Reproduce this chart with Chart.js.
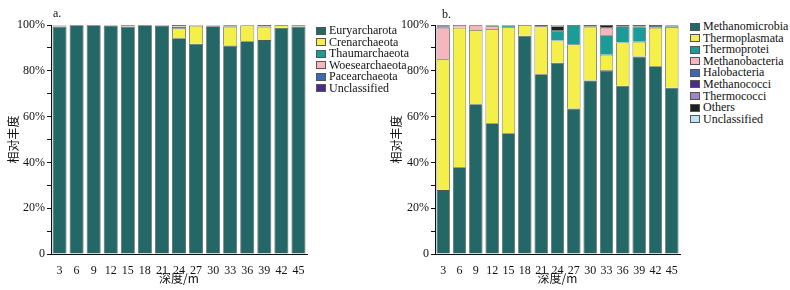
<!DOCTYPE html>
<html>
<head>
<meta charset="utf-8">
<script src="https://cdn.jsdelivr.net/npm/chart.js@4"></script>
<style>
  body { margin: 0; background: #fff; width: 790px; height: 290px; position: relative; overflow: hidden; font-family: "Liberation Serif", serif; }
  canvas { position: absolute; top: 0; }
  .tag { position: absolute; font-size: 12px; color: #111; }
  .legend { position: absolute; font-size: 12px; color: #111; }
  .legend div { height: 11.6px; line-height: 11.6px; white-space: nowrap; }
  .legend span { display: inline-block; width: 10px; height: 8px; border: 1px solid #555; box-sizing: border-box; margin-right: 3px; vertical-align: -0.5px; }
</style>
</head>
<body>
<canvas id="chartA" width="312" height="290" style="left:0"></canvas>
<canvas id="chartB" width="300" height="290" style="left:383px"></canvas>
<div class="tag" style="left:53px;top:6px">a.</div>
<div class="tag" style="left:442px;top:7px">b.</div>
<div class="legend" id="legendA" style="left:316px;top:25px"></div>
<div class="legend" id="legendB" style="left:690px;top:21px"></div>
<script>
const depths = ['3', '6', '9', '12', '15', '18', '21', '24', '27', '30', '33', '36', '39', '42', '45'];

// a. phylum level
const phylumNames = ['Euryarcharota', 'Crenarchaeota', 'Thaumarchaeota', 'Woesearchaeota', 'Pacearchaeota', 'Unclassified'];
const euryarcharota = [99.3, 99.9, 99.9, 99.8, 99.3, 99.9, 99.8, 94.2, 91.8, 99.5, 91.0, 92.9, 93.4, 98.8, 99.3];
const crenarchaeota = [0.1, 0, 0, 0.1, 0.6, 0.05, 0, 4.4, 7.9, 0.1, 8.3, 6.9, 5.9, 1.1, 0.6];
const thaumarchaeota = [0.1, 0, 0, 0, 0, 0, 0, 0.5, 0, 0.1, 0.6, 0, 0, 0, 0];
const woesearchaeota = [0.3, 0.05, 0.05, 0.05, 0.05, 0, 0.1, 0.2, 0.1, 0.2, 0, 0, 0.1, 0.05, 0.05];
const pacearchaeota = [0.1, 0, 0, 0, 0, 0, 0, 0.2, 0, 0, 0, 0, 0, 0, 0];
const unclassifiedA = [0.1, 0.05, 0.05, 0.05, 0.05, 0.05, 0.1, 0.5, 0.2, 0.1, 0.1, 0.2, 0.6, 0.05, 0.05];
const phylumColors = ['#236766', '#f5ef4a', '#1c9c98', '#f6b6bd', '#3c68b8', '#4b2a8e'];

// b. class level
const classNames = ['Methanomicrobia', 'Thermoplasmata', 'Thermoprotei', 'Methanobacteria', 'Halobacteria', 'Methanococci', 'Thermococci', 'Others', 'Unclassified'];
const methanomicrobia = [27.9, 37.9, 65.4, 57.1, 52.7, 95.3, 78.5, 83.5, 63.5, 75.8, 80.2, 73.5, 86.2, 82.0, 72.6];
const thermoplasmata = [57.1, 60.9, 32.4, 41.2, 46.3, 4.7, 21.0, 9.7, 28.1, 23.5, 6.8, 18.9, 6.5, 16.8, 26.6];
const thermoprotei = [0, 0, 0, 0, 0.8, 0, 0, 4.3, 8.4, 0, 8.5, 7.1, 6.3, 0.8, 0.6];
const methanobacteria = [13.8, 1.2, 2.1, 1.2, 0, 0, 0, 0, 0, 0, 3.3, 0, 0, 0, 0];
const halobacteria = [0.6, 0, 0, 0, 0, 0, 0, 0, 0, 0, 0, 0, 0, 0, 0];
const methanococci = [0.3, 0, 0, 0.3, 0, 0, 0, 0, 0, 0, 0, 0, 0.3, 0, 0];
const thermococci = [0, 0, 0, 0, 0, 0, 0, 0, 0, 0, 0, 0, 0, 0, 0];
const others = [0.3, 0, 0.1, 0.2, 0.2, 0, 0.5, 2.0, 0, 0.7, 1.2, 0.5, 0.7, 0.4, 0.2];
const unclassifiedB = [0, 0, 0, 0, 0, 0, 0, 0.5, 0, 0, 0, 0, 0, 0, 0];
const classColors = ['#236766', '#f5ef4a', '#1c9c98', '#f6b6bd', '#3c68b8', '#4b2a8e', '#9c86c6', '#1e1e1e', '#bfe4f6'];

const serif = 'Liberation Serif';

function makeLegend(id, names, colors) {
  const box = document.getElementById(id);
  names.forEach((n, i) => {
    const row = document.createElement('div');
    row.innerHTML = '<span style="background:' + colors[i] + '"></span>' + n;
    box.appendChild(row);
  });
}

function drawStack(canvasId, names, colors, series, leftW, rightPad, barPct) {
  const datasets = series.map((vals, i) => ({
    label: names[i],
    data: vals,
    backgroundColor: colors[i],
    borderColor: '#555',
    borderWidth: 0.8,
    barPercentage: barPct,
    categoryPercentage: 1
  }));

  new Chart(document.getElementById(canvasId), {
    type: 'bar',
    data: { labels: depths, datasets: datasets },
    options: {
      responsive: false,
      animation: false,
      layout: { padding: { top: 25, right: rightPad, left: 0, bottom: 0 } },
      plugins: { legend: { display: false }, tooltip: { enabled: false } },
      scales: {
        x: {
          stacked: true,
          grid: { display: false },
          border: { color: '#111', width: 1 },
          ticks: { color: '#111', font: { family: serif, size: 12 }, padding: 2, maxRotation: 0, autoSkip: false },
          title: { display: true, text: '深度/m', color: '#111', font: { family: 'Noto Sans CJK SC', size: 12 }, padding: { top: 0 } },
          afterFit: (s) => { s.height = 36; }
        },
        y: {
          stacked: true,
          min: 0,
          max: 100,
          grid: { drawOnChartArea: false, tickLength: 4, color: '#111' },
          border: { color: '#111', width: 1 },
          ticks: {
            stepSize: 10,
            color: '#111',
            padding: 2,
            font: { family: serif, size: 12 },
            callback: (v) => v === 0 ? '0' : (v % 20 === 0 ? v + '%' : '')
          },
          title: { display: true, text: '相对丰度', color: '#111', font: { family: 'Noto Sans CJK SC', size: 12 }, padding: { top: 6, bottom: 0 } },
          afterFit: (s) => { s.width = leftW; }
        }
      }
    }
  });
}

drawStack('chartA', phylumNames, phylumColors,
  [euryarcharota, crenarchaeota, thaumarchaeota, woesearchaeota, pacearchaeota, unclassifiedA], 51, 5, 0.82);
drawStack('chartB', classNames, classColors,
  [methanomicrobia, thermoplasmata, thermoprotei, methanobacteria, halobacteria, methanococci, thermococci, others, unclassifiedB], 52, 3, 0.82);

makeLegend('legendA', phylumNames, phylumColors);
makeLegend('legendB', classNames, classColors);
</script>
</body>
</html>
